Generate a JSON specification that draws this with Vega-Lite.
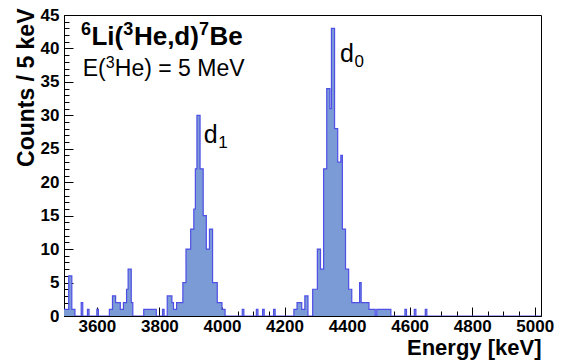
{
  "$schema": "https://vega.github.io/schema/vega-lite/v6.json",
  "width": 477,
  "height": 301,
  "autosize": {"type": "none"},
  "padding": {"left": 64, "top": 15, "right": 23, "bottom": 44},
  "background": "white",
  "config": {"view": {"stroke": "black", "strokeWidth": 1}, "font": "Liberation Sans"},
  "datasets": {
    "hist": [
      {"e":3495,"c":1},{"e":3500,"c":1},{"e":3505,"c":1},{"e":3510,"c":6},{"e":3515,"c":6},{"e":3520,"c":1},{"e":3525,"c":1},{"e":3530,"c":0},
      {"e":3550,"c":2},{"e":3555,"c":0},
      {"e":3570,"c":1},{"e":3575,"c":0},
      {"e":3600,"c":1},{"e":3605,"c":0},
      {"e":3640,"c":1},{"e":3645,"c":1},{"e":3650,"c":3},{"e":3655,"c":3},{"e":3660,"c":2},{"e":3665,"c":2},{"e":3670,"c":2},{"e":3675,"c":1},{"e":3680,"c":1},{"e":3685,"c":2},{"e":3690,"c":2},{"e":3695,"c":4},{"e":3700,"c":7},{"e":3705,"c":7},{"e":3710,"c":2},{"e":3715,"c":0},
      {"e":3750,"c":1},{"e":3755,"c":1},{"e":3760,"c":1},{"e":3765,"c":1},{"e":3770,"c":1},{"e":3775,"c":1},{"e":3780,"c":1},{"e":3785,"c":1},{"e":3790,"c":0},
      {"e":3810,"c":1},{"e":3815,"c":0},
      {"e":3825,"c":3},{"e":3830,"c":3},{"e":3835,"c":3},{"e":3840,"c":2},{"e":3845,"c":1},{"e":3850,"c":1},{"e":3855,"c":2},{"e":3860,"c":2},{"e":3865,"c":2},{"e":3870,"c":2},{"e":3875,"c":5},{"e":3880,"c":5},{"e":3885,"c":10},{"e":3890,"c":10},{"e":3895,"c":10},{"e":3900,"c":13},{"e":3905,"c":13},{"e":3910,"c":16},{"e":3915,"c":22},{"e":3920,"c":30},{"e":3925,"c":30},{"e":3930,"c":22},{"e":3935,"c":22},{"e":3940,"c":15},{"e":3945,"c":15},{"e":3950,"c":10},{"e":3955,"c":10},{"e":3960,"c":13},{"e":3965,"c":13},{"e":3970,"c":5},{"e":3975,"c":5},{"e":3980,"c":5},{"e":3985,"c":2},{"e":3990,"c":2},{"e":3995,"c":2},{"e":4000,"c":1},{"e":4005,"c":1},{"e":4010,"c":0},
      {"e":4065,"c":1},{"e":4070,"c":0},
      {"e":4110,"c":1},{"e":4115,"c":0},{"e":4130,"c":1},{"e":4135,"c":0},{"e":4165,"c":1},{"e":4170,"c":0},
      {"e":4230,"c":1},{"e":4235,"c":1},{"e":4240,"c":2},{"e":4245,"c":2},{"e":4250,"c":2},{"e":4255,"c":1},{"e":4260,"c":1},{"e":4265,"c":3},{"e":4270,"c":3},{"e":4275,"c":0},
      {"e":4290,"c":4},{"e":4295,"c":4},{"e":4300,"c":4},{"e":4305,"c":10},{"e":4310,"c":10},{"e":4315,"c":7},{"e":4320,"c":7},{"e":4325,"c":22},{"e":4330,"c":22},{"e":4335,"c":34},{"e":4340,"c":34},{"e":4345,"c":31},{"e":4350,"c":43},{"e":4355,"c":43},{"e":4360,"c":28},{"e":4365,"c":28},{"e":4370,"c":23},{"e":4375,"c":23},{"e":4380,"c":24},{"e":4385,"c":13},{"e":4390,"c":13},{"e":4395,"c":7},{"e":4400,"c":7},{"e":4405,"c":4},{"e":4410,"c":4},{"e":4415,"c":2},{"e":4420,"c":2},{"e":4425,"c":2},{"e":4430,"c":2},{"e":4435,"c":2},{"e":4440,"c":5},{"e":4445,"c":2},{"e":4450,"c":2},{"e":4455,"c":2},{"e":4460,"c":2},{"e":4465,"c":2},{"e":4470,"c":1},{"e":4475,"c":1},{"e":4480,"c":1},{"e":4485,"c":1},{"e":4490,"c":0},
      {"e":4495,"c":1},{"e":4500,"c":1},{"e":4505,"c":1},{"e":4510,"c":1},{"e":4515,"c":1},{"e":4520,"c":1},{"e":4525,"c":1},{"e":4530,"c":1},{"e":4535,"c":1},{"e":4540,"c":0},
      {"e":4585,"c":1},{"e":4590,"c":0},
      {"e":4615,"c":1},{"e":4620,"c":0},
      {"e":4650,"c":1},{"e":4655,"c":0},
      {"e":5020,"c":0}
    ],
    "titleAnchor": [{"energy": 3549, "counts": 40.5}],
    "subAnchor": [{"energy": 3555, "counts": 35.9}],
    "d1Anchor": [{"energy": 3942, "counts": 25.9}],
    "d0Anchor": [{"energy": 4377, "counts": 38}]
  },
  "encoding": {
    "x": {
      "field": "e", "type": "quantitative",
      "scale": {"domain": [3495, 5020], "nice": false, "zero": false},
      "axis": {
        "values": [3500,3550,3600,3650,3700,3750,3800,3850,3900,3950,4000,4050,4100,4150,4200,4250,4300,4350,4400,4450,4500,4550,4600,4650,4700,4750,4800,4850,4900,4950,5000],
        "format": "d",
        "labelExpr": "datum.value % 200 === 0 ? datum.label : ''",
        "tickSize": {"condition": {"test": "datum.value % 200 === 0", "value": -9}, "value": -5},
        "tickColor": "black",
        "domainColor": "black",
        "grid": false,
        "labelFont": "Liberation Sans",
        "labelFontWeight": "bold",
        "labelFontSize": 17,
        "labelColor": "black",
        "labelPadding": 11,
        "labelFlush": false,
        "labelOverlap": false,
        "title": "Energy [keV]",
        "titleX": 477,
        "titleY": 38,
        "titleAlign": "right",
        "titleBaseline": "alphabetic",
        "titleFont": "Liberation Sans",
        "titleFontWeight": "bold",
        "titleFontSize": 22,
        "titleColor": "black"
      }
    },
    "y": {
      "field": "c", "type": "quantitative",
      "scale": {"domain": [0, 45], "nice": false},
      "axis": {
        "values": [0,1,2,3,4,5,6,7,8,9,10,11,12,13,14,15,16,17,18,19,20,21,22,23,24,25,26,27,28,29,30,31,32,33,34,35,36,37,38,39,40,41,42,43,44,45],
        "labelExpr": "datum.value % 5 === 0 ? datum.label : ''",
        "tickSize": {"condition": {"test": "datum.value % 5 === 0", "value": -9}, "value": -5},
        "tickColor": "black",
        "domainColor": "black",
        "grid": false,
        "labelFont": "Liberation Sans",
        "labelFontWeight": "bold",
        "labelFontSize": 17,
        "labelColor": "black",
        "labelPadding": 14,
        "labelFlush": false,
        "labelOverlap": false,
        "title": "Counts / 5 keV",
        "titleX": -31,
        "titleY": -7,
        "titleAngle": 270,
        "titleAlign": "right",
        "titleBaseline": "alphabetic",
        "titleFont": "Liberation Sans",
        "titleFontWeight": "bold",
        "titleFontSize": 23,
        "titleColor": "black"
      }
    }
  },
  "layer": [
    {
      "data": {"name": "hist"},
      "mark": {"type": "area", "interpolate": "step-after", "color": "#7b9bd6", "opacity": 1, "clip": true}
    },
    {
      "data": {"name": "hist"},
      "mark": {"type": "line", "interpolate": "step-after", "color": "#4f4fe6", "strokeWidth": 1.2, "clip": true}
    },
    {
      "data": {"name": "titleAnchor"},
      "layer": [
        {"mark": {"type": "text", "text": "6", "dx": 0, "dy": -10, "align": "left", "baseline": "alphabetic", "fontWeight": "bold", "fontSize": 18, "color": "black"}},
        {"mark": {"type": "text", "text": "Li(", "dx": 10.6, "align": "left", "baseline": "alphabetic", "fontWeight": "bold", "fontSize": 26, "color": "black"}},
        {"mark": {"type": "text", "text": "3", "dx": 42.4, "dy": -10, "align": "left", "baseline": "alphabetic", "fontWeight": "bold", "fontSize": 18, "color": "black"}},
        {"mark": {"type": "text", "text": "He,d)", "dx": 53, "align": "left", "baseline": "alphabetic", "fontWeight": "bold", "fontSize": 26, "color": "black"}},
        {"mark": {"type": "text", "text": "7", "dx": 118, "dy": -10, "align": "left", "baseline": "alphabetic", "fontWeight": "bold", "fontSize": 18, "color": "black"}},
        {"mark": {"type": "text", "text": "Be", "dx": 128.6, "align": "left", "baseline": "alphabetic", "fontWeight": "bold", "fontSize": 26, "color": "black"}}
      ],
      "encoding": {"x": {"field": "energy", "type": "quantitative"}, "y": {"field": "counts", "type": "quantitative"}}
    },
    {
      "data": {"name": "subAnchor"},
      "layer": [
        {"mark": {"type": "text", "text": "E(", "dx": 0, "align": "left", "baseline": "alphabetic", "fontSize": 23, "color": "black"}},
        {"mark": {"type": "text", "text": "3", "dx": 23, "dy": -8, "align": "left", "baseline": "alphabetic", "fontSize": 16, "color": "black"}},
        {"mark": {"type": "text", "text": "He) = 5 MeV", "dx": 32, "align": "left", "baseline": "alphabetic", "fontSize": 23, "color": "black"}}
      ],
      "encoding": {"x": {"field": "energy", "type": "quantitative"}, "y": {"field": "counts", "type": "quantitative"}}
    },
    {
      "data": {"name": "d1Anchor"},
      "layer": [
        {"mark": {"type": "text", "text": "d", "dx": 0, "align": "left", "baseline": "alphabetic", "fontSize": 25, "color": "black"}},
        {"mark": {"type": "text", "text": "1", "dx": 14.5, "dy": 5, "align": "left", "baseline": "alphabetic", "fontSize": 17, "color": "black"}}
      ],
      "encoding": {"x": {"field": "energy", "type": "quantitative"}, "y": {"field": "counts", "type": "quantitative"}}
    },
    {
      "data": {"name": "d0Anchor"},
      "layer": [
        {"mark": {"type": "text", "text": "d", "dx": 0, "align": "left", "baseline": "alphabetic", "fontSize": 25, "color": "black"}},
        {"mark": {"type": "text", "text": "0", "dx": 14.5, "dy": 5, "align": "left", "baseline": "alphabetic", "fontSize": 17, "color": "black"}}
      ],
      "encoding": {"x": {"field": "energy", "type": "quantitative"}, "y": {"field": "counts", "type": "quantitative"}}
    }
  ]
}
